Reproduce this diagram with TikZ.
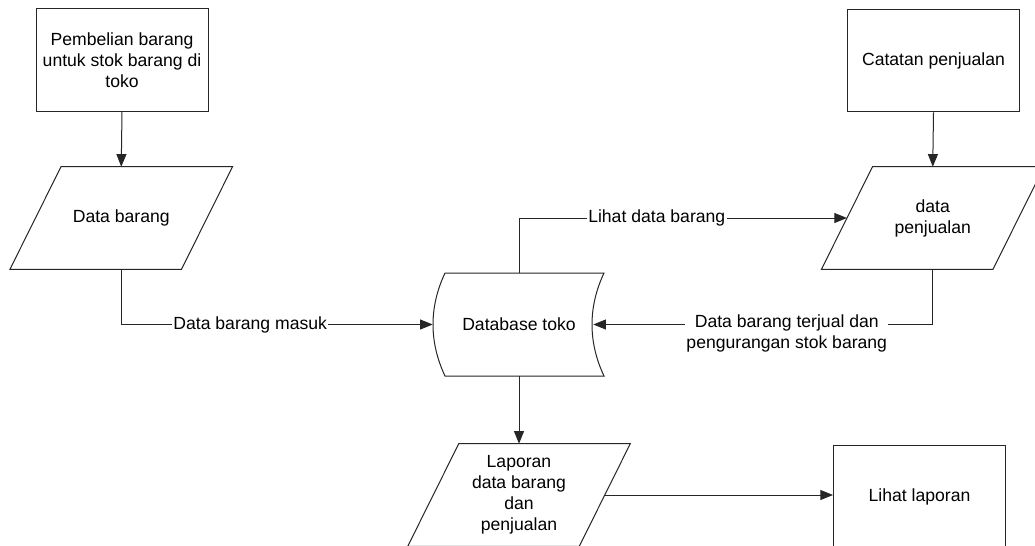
\documentclass[tikz,border=0pt]{standalone}
\usepackage{fontspec}
\setmainfont{Liberation Sans}
\usetikzlibrary{arrows.meta,calc}
\tikzset{
  shapeline/.style={draw=black!85, line width=0.75pt},
  boxnode/.style={shapeline, rectangle, minimum width=129pt, minimum height=77pt, align=center, inner sep=2pt},
  paranode/.style={rectangle, minimum width=128.25pt, minimum height=76.5pt, align=center, inner sep=2pt},
  dbnode/.style={rectangle, minimum width=129pt, minimum height=77.25pt, align=center, inner sep=2pt},
  conn/.style={draw=black!85, line width=0.75pt, -{Triangle[length=9.5pt,width=7.5pt]}},
  plainconn/.style={draw=black!85, line width=0.75pt},
  lbl/.style={fill=white, inner sep=1pt, align=center}
}
\newcommand\drawpara[1]{\draw[shapeline] ([xshift=19.125pt]#1.north west) -- ([xshift=19.125pt]#1.north east) -- ([xshift=-19.125pt]#1.south east) -- ([xshift=-19.125pt]#1.south west) -- cycle;}
\begin{document}
\begin{tikzpicture}[x=0.75pt,y=-0.75pt,font=\fontsize{13.2}{15.8}\selectfont]
\clip (0,0) rectangle (1035,546);
\fill[white] (0,0) rectangle (1035,546);

% boxes
\node[boxnode] (pb) at (122,60) {Pembelian barang\\untuk stok barang di\\toko};
\node[boxnode] (cp) at (933.5,60.5) {Catatan penjualan};
\node[boxnode, minimum height=77.25pt] (ll) at (919.5,496.5) {Lihat laporan};

% parallelograms
\node[paranode] (dbar) at (121.25,218) {Data barang};
\drawpara{dbar}
\node[paranode] (dp) at (932.75,218) {data\\penjualan};
\drawpara{dp}
\node[paranode] (lap) at (519,495) {Laporan\\data barang\\dan\\penjualan};
\drawpara{lap}

% stored data
\node[dbnode] (dbs) at (519,324.5) {Database toko};
\draw[shapeline] (445,273) -- (604,273) .. controls (588,307) and (588,342) .. (604,376) -- (445,376) .. controls (429,342) and (429,307) .. (445,273);

% connectors
\draw[conn] (pb.south) -- (dbar.north);
\draw[conn] (cp.south) -- (dp.north);
\draw[conn] (dbar.south) |- (dbs.west) node[lbl, pos=0.707] {Data barang masuk};
\draw[conn] (dbs.north) |- (dp.west) node[lbl, pos=0.71] {Lihat data barang};
\draw[conn] (dp.south) |- ([xshift=-9pt]dbs.east) node[lbl, pos=0.715, yshift=-6.5pt] {Data barang terjual dan\\pengurangan stok barang};
\draw[conn] (dbs.south) -- (lap.north);
\draw[conn] (lap.east) -- (lap.east -| ll.west);
\end{tikzpicture}
\end{document}
